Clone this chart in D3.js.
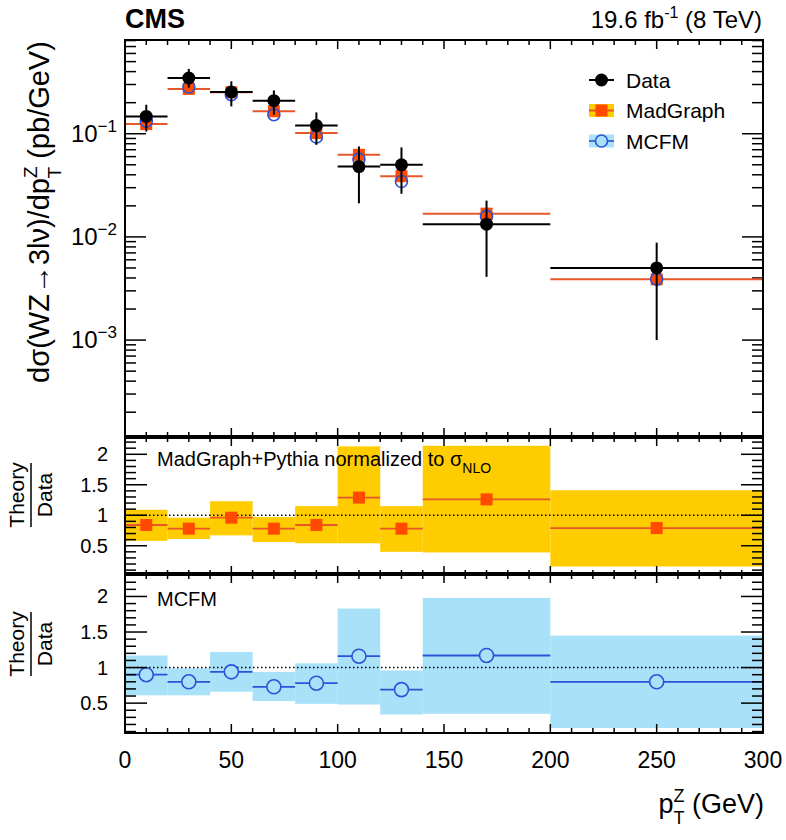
<!DOCTYPE html>
<html>
<head>
<meta charset="utf-8">
<script src="https://cdn.jsdelivr.net/npm/d3@7"></script>
<style>
  html, body { margin: 0; padding: 0; background: #fff; }
  svg { display: block; font-family: "Liberation Sans", Arial, Helvetica, sans-serif; }
</style>
</head>
<body>
<svg id="chart" width="786" height="840"></svg>
<script>
// ---------------- data ----------------
const binEdges   = [0, 20, 40, 60, 80, 100, 120, 140, 200, 300];
const binCenters = [10, 30, 50, 70, 90, 110, 130, 170, 250];

const dataXS     = [0.147, 0.347, 0.254, 0.209, 0.120, 0.048, 0.050, 0.0133, 0.0050];
const dataHi     = [0.191, 0.425, 0.322, 0.263, 0.161, 0.0753, 0.0737, 0.0225, 0.0088];
const dataLo     = [0.105, 0.280, 0.184, 0.153, 0.078, 0.0212, 0.0262, 0.0041, 0.0010];

const madgraphXS = [0.124, 0.272, 0.252, 0.165, 0.1016, 0.0625, 0.0388, 0.0168, 0.00388];
const mcfmXS     = [0.132, 0.284, 0.239, 0.153, 0.093, 0.0568, 0.0344, 0.0158, 0.0039];

const mgRatio    = [0.84, 0.78, 0.96, 0.78, 0.84, 1.29, 0.78, 1.26, 0.79];
const mgBandHi   = [1.09, 0.96, 1.23, 0.97, 1.15, 2.13, 1.15, 2.14, 1.41];
const mgBandLo   = [0.58, 0.61, 0.67, 0.56, 0.54, 0.54, 0.40, 0.39, 0.16];

const mcfmRatio  = [0.90, 0.80, 0.94, 0.73, 0.78, 1.16, 0.69, 1.17, 0.80];
const mcfmBandHi = [1.17, 0.99, 1.22, 0.94, 1.06, 1.83, 0.96, 1.98, 1.45];
const mcfmBandLo = [0.61, 0.61, 0.66, 0.53, 0.49, 0.48, 0.34, 0.35, 0.15];

const xTickValues     = [0, 50, 100, 150, 200, 250, 300];
const logTickExponents = [-1, -2, -3];
const ratioTickValues = [0.5, 1, 1.5, 2];

// ---------------- styles ----------------
const C = {
  yellow: "#ffcc00", red: "#ff4a00", redLine: "#e8562a",
  lblue: "#a9e2f8", blue: "#2c52d8", black: "#000"
};

const svg = d3.select("#chart");
const L = 125, R = 763;

const x = d3.scaleLinear().domain([0, 300]).range([L, R]);
const yTop = d3.scaleLog().domain([1.15e-4, 0.81]).range([437, 40]);
const yMid = d3.scaleLinear().domain([0.02, 2.3]).range([575, 436]);
const yBot = d3.scaleLinear().domain([0.08, 2.33]).range([733, 573]);

const bins = binCenters.map((c, i) => ({
  c, lo: binEdges[i], hi: binEdges[i + 1],
  d: dataXS[i], dHi: dataHi[i], dLo: dataLo[i],
  mg: madgraphXS[i], mc: mcfmXS[i],
  mr: mgRatio[i], mbh: mgBandHi[i], mbl: mgBandLo[i],
  cr: mcfmRatio[i], cbh: mcfmBandHi[i], cbl: mcfmBandLo[i]
}));

// ---------------- helpers ----------------
function xTicks(g, y0, y1) {
  const minor = d3.range(0, 301, 10);
  minor.forEach(v => {
    const major = v % 50 === 0;
    const len = major ? 9 : 5;
    g.append("line").attr("x1", x(v)).attr("x2", x(v)).attr("y1", y0).attr("y2", y0 + len)
      .attr("stroke", "#000").attr("stroke-width", 1.5);
    g.append("line").attr("x1", x(v)).attr("x2", x(v)).attr("y1", y1).attr("y2", y1 - len)
      .attr("stroke", "#000").attr("stroke-width", 1.5);
  });
}
function yTicksSide(g, ticks, scale, majorLen, minorLen) {
  ticks.forEach(t => {
    const len = t.major ? majorLen : minorLen;
    const yy = scale(t.v);
    g.append("line").attr("x1", L).attr("x2", L + len).attr("y1", yy).attr("y2", yy)
      .attr("stroke", "#000").attr("stroke-width", 1.5);
    g.append("line").attr("x1", R).attr("x2", R - len).attr("y1", yy).attr("y2", yy)
      .attr("stroke", "#000").attr("stroke-width", 1.5);
  });
}
function frame(y0, y1) {
  svg.append("rect").attr("x", L).attr("y", y0).attr("width", R - L).attr("height", y1 - y0)
    .attr("fill", "none").attr("stroke", "#000").attr("stroke-width", 2);
}

// ---------------- TOP PANEL ----------------
const gTop = svg.append("g");

const [lmin, lmax] = yTop.domain();
const logTicks = [];
for (let e = -4; e <= 0; e++) {
  for (let m = 1; m <= 9; m++) {
    const v = m * Math.pow(10, e);
    if (v >= lmin && v <= lmax) logTicks.push({ v, major: m === 1 });
  }
}
yTicksSide(gTop, logTicks, yTop, 21, 11);
xTicks(gTop, 40, 437);

// MadGraph
gTop.selectAll(".mgl").data(bins).join("line")
  .attr("x1", d => x(d.lo)).attr("x2", d => x(d.hi))
  .attr("y1", d => yTop(d.mg)).attr("y2", d => yTop(d.mg))
  .attr("stroke", C.redLine).attr("stroke-width", 2);
gTop.selectAll(".mgs").data(bins).join("rect")
  .attr("x", d => x(d.c) - 6).attr("y", d => yTop(d.mg) - 6)
  .attr("width", 12).attr("height", 12).attr("fill", C.red);
// MCFM
gTop.selectAll(".mcc").data(bins).join("circle")
  .attr("cx", d => x(d.c)).attr("cy", d => yTop(d.mc)).attr("r", 6)
  .attr("fill", "none").attr("stroke", C.blue).attr("stroke-width", 1.6);
// Data
gTop.selectAll(".dh").data(bins).join("line")
  .attr("x1", d => x(d.lo)).attr("x2", d => x(d.hi))
  .attr("y1", d => yTop(d.d)).attr("y2", d => yTop(d.d))
  .attr("stroke", "#000").attr("stroke-width", 2);
gTop.selectAll(".dv").data(bins).join("line")
  .attr("x1", d => x(d.c)).attr("x2", d => x(d.c))
  .attr("y1", d => yTop(d.dHi)).attr("y2", d => yTop(d.dLo))
  .attr("stroke", "#000").attr("stroke-width", 2);
gTop.selectAll(".dc").data(bins).join("circle")
  .attr("cx", d => x(d.c)).attr("cy", d => yTop(d.d)).attr("r", 6.5).attr("fill", "#000");

frame(40, 437);

// log tick labels
logTickExponents.forEach(e => {
  const t = gTop.append("text").attr("x", 117).attr("y", yTop(Math.pow(10, e)) + 8)
    .attr("text-anchor", "end").attr("font-size", 24);
  t.append("tspan").text("10");
  t.append("tspan").attr("dy", -10).attr("font-size", 17).text("\u2212" + Math.abs(e));
});

// legend
const lg = svg.append("g");
const lx0 = 589, lx1 = 614, lxm = 601.5;
lg.append("line").attr("x1", lx0).attr("x2", lx1).attr("y1", 80).attr("y2", 80).attr("stroke", "#000").attr("stroke-width", 2);
lg.append("circle").attr("cx", lxm).attr("cy", 80).attr("r", 6.5).attr("fill", "#000");
lg.append("rect").attr("x", lx0).attr("y", 104).attr("width", lx1 - lx0).attr("height", 13).attr("fill", C.yellow);
lg.append("line").attr("x1", lx0).attr("x2", lx1).attr("y1", 110.5).attr("y2", 110.5).attr("stroke", C.redLine).attr("stroke-width", 2);
lg.append("rect").attr("x", lxm - 6).attr("y", 104.5).attr("width", 12).attr("height", 12).attr("fill", C.red);
lg.append("rect").attr("x", lx0).attr("y", 134.5).attr("width", lx1 - lx0).attr("height", 13).attr("fill", C.lblue);
lg.append("line").attr("x1", lx0).attr("x2", lx1).attr("y1", 141).attr("y2", 141).attr("stroke", C.blue).attr("stroke-width", 1.6);
lg.append("circle").attr("cx", lxm).attr("cy", 141).attr("r", 6).attr("fill", C.lblue).attr("stroke", C.blue).attr("stroke-width", 1.6);
const legendLabels = ["Data", "MadGraph", "MCFM"];
[80, 110.5, 141].forEach((yy, i) => {
  lg.append("text").attr("x", 626).attr("y", yy + 7.5).attr("font-size", 21).text(legendLabels[i]);
});

// ---------------- RATIO PANELS ----------------
function ratioPanel(scale, y0, y1, bandHiKey, bandLoKey, valKey, bandColor, lineColor, marker) {
  const g = svg.append("g");
  g.selectAll(".band").data(bins).join("rect")
    .attr("x", d => x(d.lo)).attr("width", d => x(d.hi) - x(d.lo))
    .attr("y", d => scale(d[bandHiKey])).attr("height", d => scale(d[bandLoKey]) - scale(d[bandHiKey]))
    .attr("fill", bandColor);
  g.append("line").attr("x1", L).attr("x2", R).attr("y1", scale(1)).attr("y2", scale(1))
    .attr("stroke", "#000").attr("stroke-width", 1.5).attr("stroke-dasharray", "1.5,2.5");
  g.selectAll(".rl").data(bins).join("line")
    .attr("x1", d => x(d.lo)).attr("x2", d => x(d.hi))
    .attr("y1", d => scale(d[valKey])).attr("y2", d => scale(d[valKey]))
    .attr("stroke", lineColor).attr("stroke-width", 1.8);
  if (marker === "square") {
    g.selectAll(".rm").data(bins).join("rect")
      .attr("x", d => x(d.c) - 6).attr("y", d => scale(d[valKey]) - 6)
      .attr("width", 12).attr("height", 12).attr("fill", C.red);
  } else {
    g.selectAll(".rm").data(bins).join("circle")
      .attr("cx", d => x(d.c)).attr("cy", d => scale(d[valKey])).attr("r", 7)
      .attr("fill", bandColor).attr("stroke", C.blue).attr("stroke-width", 1.6);
  }
  const [a, b] = scale.domain();
  const ticks = d3.range(0.1, 2.31, 0.1).map(v => +v.toFixed(1))
    .filter(v => v >= a && v <= b)
    .map(v => ({ v, major: Math.abs(v * 2 - Math.round(v * 2)) < 1e-6 }));
  yTicksSide(g, ticks, scale, 22, 11);
  xTicks(g, y0, y1);
  frame(y0, y1);
  ratioTickValues.forEach(v => {
    g.append("text").attr("x", 108).attr("y", scale(v) + 7).attr("text-anchor", "end")
      .attr("font-size", 20).text(String(v));
  });
  return g;
}

ratioPanel(yMid, 437, 575, "mbh", "mbl", "mr", C.yellow, C.redLine, "square");
ratioPanel(yBot, 574, 733, "cbh", "cbl", "cr", C.lblue, C.blue, "circle");

[437, 574].forEach(yy => {
  svg.append("line").attr("x1", L - 1).attr("x2", R + 1).attr("y1", yy).attr("y2", yy)
    .attr("stroke", "#000").attr("stroke-width", 4);
});

// panel texts
const t1 = svg.append("text").attr("x", 157).attr("y", 466).attr("font-size", 20);
t1.append("tspan").text("MadGraph+Pythia normalized to \u03c3");
t1.append("tspan").attr("dy", 7).attr("font-size", 14).text("NLO");
svg.append("text").attr("x", 157).attr("y", 606).attr("font-size", 20).text("MCFM");

// Theory / Data fractions
function fraction(cy) {
  const g = svg.append("g").attr("transform", `translate(31,${cy}) rotate(-90)`);
  g.append("text").attr("x", 0).attr("y", -7).attr("text-anchor", "middle").attr("font-size", 21).text("Theory");
  g.append("line").attr("x1", -32).attr("x2", 32).attr("y1", 0).attr("y2", 0).attr("stroke", "#000").attr("stroke-width", 1.5);
  g.append("text").attr("x", 0).attr("y", 21).attr("text-anchor", "middle").attr("font-size", 21).text("Data");
}
fraction(495);
fraction(644);

// x tick labels
xTickValues.forEach(v => {
  svg.append("text").attr("x", x(v)).attr("y", 768).attr("text-anchor", "middle")
    .attr("font-size", 23).text(String(v));
});

// x axis title
const xt = svg.append("text").attr("x", 764).attr("y", 813).attr("text-anchor", "end").attr("font-size", 27);
xt.append("tspan").text("p");
xt.append("tspan").attr("dy", -11).attr("font-size", 18).text("Z");
xt.append("tspan").attr("dx", -11).attr("dy", 22).attr("font-size", 18).text("T");
xt.append("tspan").attr("dy", -11).text(" (GeV)");

// y axis title
const yt = svg.append("text").attr("transform", "translate(49,212) rotate(-90)")
  .attr("text-anchor", "middle").attr("font-size", 29);
yt.append("tspan").text("d\u03c3(WZ\u21923l\u03bd)/dp");
yt.append("tspan").attr("dy", -12).attr("font-size", 19).text("Z");
yt.append("tspan").attr("dx", -12).attr("dy", 24).attr("font-size", 19).text("T");
yt.append("tspan").attr("dy", -12).text(" (pb/GeV)");

// header
svg.append("text").attr("x", 125).attr("y", 28).attr("font-size", 27).attr("font-weight", "bold").text("CMS");
const lumi = svg.append("text").attr("x", 762).attr("y", 28).attr("text-anchor", "end").attr("font-size", 24);
lumi.append("tspan").text("19.6 fb");
lumi.append("tspan").attr("dy", -10).attr("font-size", 16).text("-1");
lumi.append("tspan").attr("dy", 10).text(" (8 TeV)");
</script>
</body>
</html>
